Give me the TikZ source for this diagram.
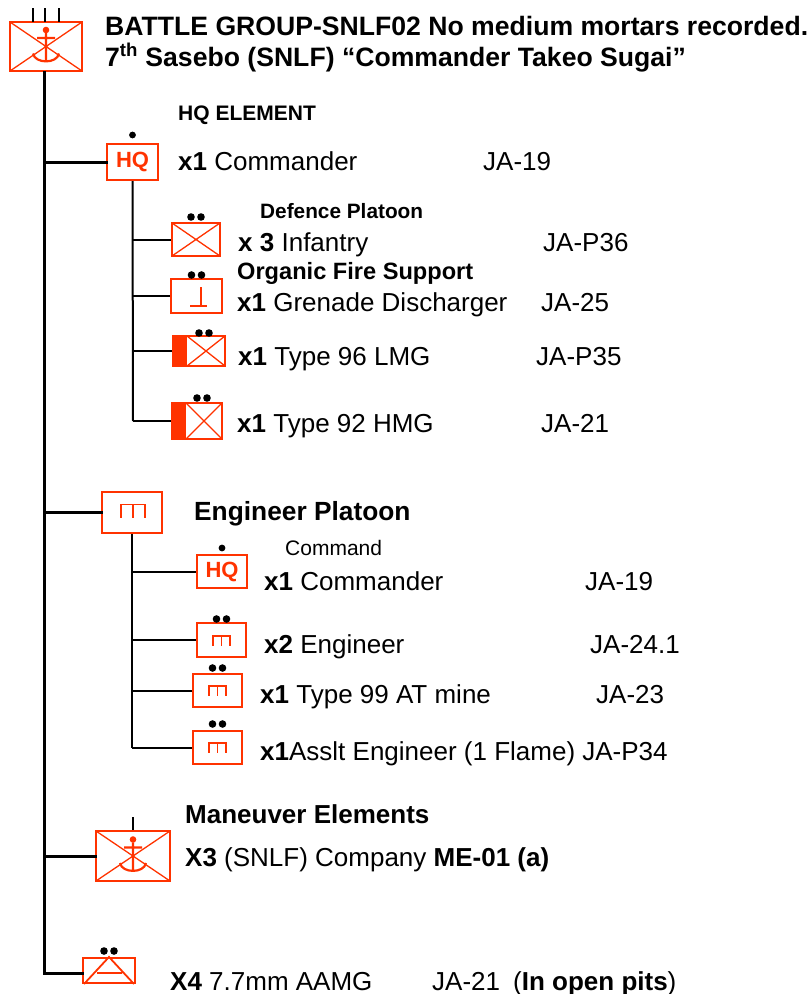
\documentclass[tikz,border=0pt]{standalone}
\usepackage{fontspec}
\setmainfont{Liberation Sans}
\usetikzlibrary{positioning, calc}
\definecolor{snlfred}{RGB}{255,51,0}

\tikzset{
    unitbox/.style={draw=snlfred, line width=2pt, rectangle, inner sep=0pt},
    crossbox/.style={unitbox, path picture={
        \draw[snlfred, line width=1.3pt] (path picture bounding box.north west) -- (path picture bounding box.south east)
            (path picture bounding box.south west) -- (path picture bounding box.north east);}},
    mgbox/.style={unitbox, path picture={
        \fill[snlfred] (path picture bounding box.north west) rectangle ([xshift=14pt]path picture bounding box.south west);
        \draw[snlfred, line width=1.3pt] ([xshift=14pt]path picture bounding box.north west) -- (path picture bounding box.south east)
            ([xshift=14pt]path picture bounding box.south west) -- (path picture bounding box.north east);}},
    hqbox/.style={unitbox, text=snlfred, font=\fontsize{22}{22}\selectfont\bfseries},
    trunk/.style={line width=3pt, line cap=rect},
    branch/.style={line width=2pt},
    lbl/.style={anchor=base west, inner sep=0pt, font=\fontsize{26}{30}\selectfont},
    sublbl/.style={lbl, font=\fontsize{21}{24}\selectfont\bfseries},
    pics/snlfanchor/.style={code={
        \fill[snlfred] (0,-16.5) circle (3.3pt);
        \draw[snlfred, line width=2.2pt] (0,-13.5) -- (0,15.5) (-9,-8.5) -- (9,-8.5)
            (-13,7) .. controls (-11,17.5) and (11,17.5) .. (13,7);}},
    pics/engsym/.style={code={
        \draw[snlfred, line width=1.8pt] (-#1,0.55*#1) -- (-#1,-0.55*#1) -- (#1,-0.55*#1) -- (#1,0.55*#1)
            (0,-0.55*#1) -- (0,0.55*#1);}},
    pics/onedot/.style={code={\fill (0,0) circle (3.4pt);}},
    pics/twodot/.style={code={\fill (-5,0) circle (3.8pt) (5,0) circle (3.8pt);}}
}

\begin{document}
\begin{tikzpicture}[x=1pt, y=-1pt]
\useasboundingbox (0,0) rectangle (810,994);

% battle group
\node[crossbox, minimum width=72pt, minimum height=49pt] (bg) at (46,46.5) {};
\pic at (bg) {snlfanchor};
\foreach \tx in {33,45,59}
    \draw[line width=2.5pt] (\tx,8) -- (\tx,22);
\node[lbl, font=\fontsize{26.6}{30}\selectfont\bfseries] (bgtitle) at (105,35) {BATTLE GROUP-SNLF02 No medium mortars recorded.};
\node[lbl, font=\fontsize{26.6}{30}\selectfont\bfseries] (bgname) at (105,66) {7\textsuperscript{th} Sasebo (SNLF) “Commander Takeo Sugai”};

% HQ element
\node[hqbox, minimum width=51pt, minimum height=36pt] (hq) at (132.5,162) {HQ};
\pic at (132.5,135) {onedot};
\node[sublbl] (hqtitle) at (178,120) {HQ ELEMENT};
\node[lbl] (hqtext) at (178,170) {\textbf{x1} Commander};
\node[lbl] (hqcode) at (483,170) {JA-19};

\node[crossbox, minimum width=48pt, minimum height=33pt] (def) at (196,239.5) {};
\pic at (196,217) {twodot};
\node[sublbl, font=\fontsize{20.8}{24}\selectfont\bfseries] (deftitle) at (260,218) {Defence Platoon};
\node[lbl] (deftext) at (238,251) {\textbf{x 3} Infantry};
\node[lbl] (defcode) at (543,251) {JA-P36};

\node[unitbox, minimum width=51pt, minimum height=34pt] (gd) at (196.5,296) {};
\draw[snlfred, line width=2pt] (200.5,287) -- (200.5,306) (190,306) -- (207,306);
\pic at (196.5,275) {twodot};
\node[sublbl, font=\fontsize{23.6}{26}\selectfont\bfseries] (ofstitle) at (237,279) {Organic Fire Support};
\node[lbl] (gdtext) at (237,311) {\textbf{x1} Grenade Discharger};
\node[lbl] (gdcode) at (541,311) {JA-25};

\node[mgbox, minimum width=52pt, minimum height=30pt] (lmg) at (199,351) {};
\pic at (204,333) {twodot};
\node[lbl] (lmgtext) at (238,365) {\textbf{x1} Type 96 LMG};
\node[lbl] (lmgcode) at (536,365) {JA-P35};

\node[mgbox, minimum width=50pt, minimum height=36pt] (hmg) at (197,421) {};
\pic at (202,398) {twodot};
\node[lbl] (hmgtext) at (237,432) {\textbf{x1} Type 92 HMG};
\node[lbl] (hmgcode) at (541,432) {JA-21};

% engineer platoon
\node[unitbox, minimum width=60pt, minimum height=41pt] (eng) at (132,512.5) {};
\pic at (133,511) {engsym=12};
\node[lbl, font=\fontsize{26.3}{30}\selectfont\bfseries] (engtitle) at (194,520) {Engineer Platoon};

\node[hqbox, minimum width=50pt, minimum height=33pt] (ehq) at (222,571.5) {HQ};
\pic at (222,548) {onedot};
\node[lbl, font=\fontsize{21}{24}\selectfont] (ehqtitle) at (285,555) {Command};
\node[lbl] (ehqtext) at (264,590) {\textbf{x1} Commander};
\node[lbl] (ehqcode) at (585,590) {JA-19};

\node[unitbox, minimum width=49pt, minimum height=34pt] (esq) at (221.5,640) {};
\pic at (221.5,641) {engsym=8.5};
\pic at (221.5,619) {twodot};
\node[lbl] (esqtext) at (264,653) {\textbf{x2} Engineer};
\node[lbl] (esqcode) at (590,653) {JA-24.1};

\node[unitbox, minimum width=49pt, minimum height=33pt] (mine) at (217.5,690.5) {};
\pic at (217.5,691) {engsym=8.5};
\pic at (217.5,668) {twodot};
\node[lbl] (minetext) at (260,703) {\textbf{x1} Type 99 AT mine};
\node[lbl] (minecode) at (596,703) {JA-23};

\node[unitbox, minimum width=49pt, minimum height=33pt] (aslt) at (217.5,747.5) {};
\pic at (217.5,748) {engsym=8.5};
\pic at (217.5,724) {twodot};
\node[lbl] (aslttext) at (260,760) {\textbf{x1}Asslt Engineer (1 Flame) JA-P34};

% maneuver elements
\node[crossbox, minimum width=74pt, minimum height=50pt] (me) at (133,856) {};
\pic at (me) {snlfanchor};
\draw[line width=2.5pt] (me.north) -- ++(0,-13);
\node[lbl, font=\fontsize{26}{30}\selectfont\bfseries] (metitle) at (185,823) {Maneuver Elements};
\node[lbl] (metext) at (185,866) {\textbf{X3} (SNLF) Company \textbf{ME-01 (a)}};

% AA guns
\node[unitbox, minimum width=52pt, minimum height=25pt] (aa) at (109,970.5) {};
\draw[snlfred, line width=1.8pt] ($(aa.south west)+(2,0)$) -- (aa.north) -- ($(aa.south east)+(-2,0)$)
    (97,973) -- (122,973);
\pic at (109,951) {twodot};
\node[lbl] (aatext) at (170,990) {\textbf{X4} 7.7mm AAMG};
\node[lbl] (aacode) at (432,990) {JA-21};
\node[lbl] (aanote) at (513,990) {(\textbf{In open pits})};

% connectors
\draw[trunk] (bg.south -| 44,0) -- (44,973) -- (aa.west |- 0,973);
\draw[trunk] (hq.west -| 44,0) -- (hq.west);
\draw[trunk] (eng.west -| 44,0) -- (eng.west);
\draw[trunk] (me.west -| 44,0) -- (me.west);

\draw[branch] (hq.south) -- (hmg.west -| 133,0);
\draw[branch] (def.west -| 133,0) -- (def.west);
\draw[branch] (gd.west -| 133,0) -- (gd.west);
\draw[branch] (lmg.west -| 133,0) -- (lmg.west);
\draw[branch] (hmg.west -| 133,0) -- (hmg.west);

\draw[branch] (eng.south) -- (aslt.west -| 132,0);
\draw[branch] (ehq.west -| 132,0) -- (ehq.west);
\draw[branch] (esq.west -| 132,0) -- (esq.west);
\draw[branch] (mine.west -| 132,0) -- (mine.west);
\draw[branch] (aslt.west -| 132,0) -- (aslt.west);

\end{tikzpicture}
\end{document}
